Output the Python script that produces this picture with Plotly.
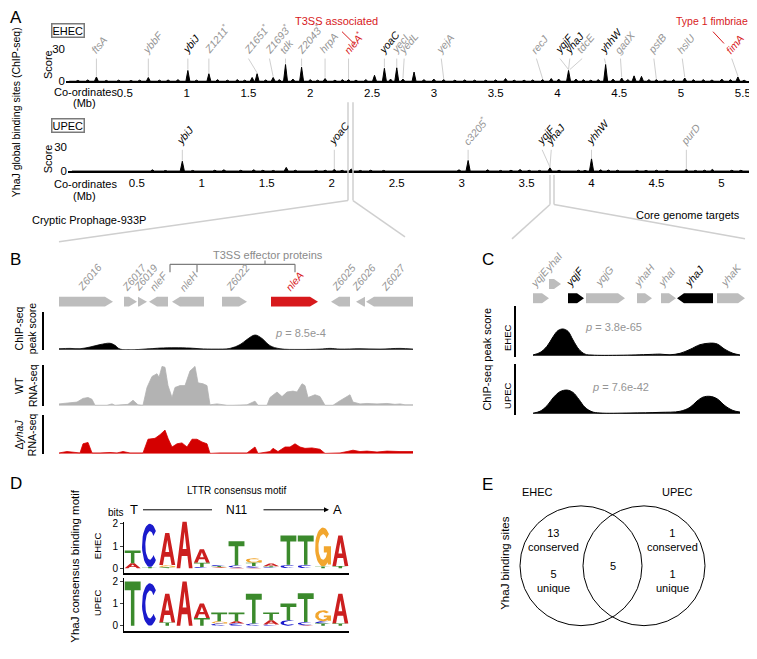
import numpy as np
import plotly.graph_objects as go

W, H = 757, 659
OFF = 8  # the page body margin shifts the figure by 8 px
FONT = "Liberation Sans, Arial, Helvetica, sans-serif"
RED = "#d7191c"
GREY_TXT = "#959595"
GREY_LINE = "#cfcfcf"
GENE_GREY = "#bdbdbd"

# ---------------- Panel A: genome wide ChIP-seq peaks (Mb, score)
ehec_mb = [0.12, 0.2, 0.27, 0.35, 0.45, 0.55, 0.62, 0.69, 0.78, 0.85, 0.93, 1.01, 1.08, 1.18,
           1.25, 1.33, 1.41, 1.47, 1.53, 1.57, 1.64, 1.70, 1.75, 1.80, 1.86, 1.93, 2.0, 2.06,
           2.12, 2.2, 2.26, 2.31, 2.37, 2.45, 2.52, 2.6, 2.65, 2.7, 2.75, 2.84, 2.92, 3.0, 3.08,
           3.17, 3.25, 3.33, 3.42, 3.5, 3.58, 3.65, 3.73, 3.8, 3.88, 3.95, 4.01, 4.09, 4.15,
           4.21, 4.27, 4.33, 4.39, 4.45, 4.52, 4.57, 4.62, 4.68, 4.74, 4.8, 4.87, 4.94, 5.03,
           5.1, 5.18, 5.25, 5.33, 5.4, 5.46, 5.51]
ehec_score = [0.8, 1.2, 4, 0.8, 1, 0.7, 1, 3.5, 1, 1.2, 1.5, 10, 1, 7,
              1.5, 1, 1.5, 1, 3.5, 7, 1.2, 3.5, 1.5, 15.5, 2, 13, 1.5, 1,
              2.5, 1, 1.5, 1.5, 1, 1.5, 5.5, 12, 2, 12.5, 2, 8.5, 1.5, 2, 1.5,
              1, 1.2, 1, 1, 1.2, 2.5, 1, 1, 1.2, 1.5, 2.5, 2, 10, 2,
              1.5, 1, 1.5, 15.5, 2, 3, 1.5, 5, 4.5, 1.5, 1.5, 1.2, 1.5, 3,
              1.5, 1.5, 1.2, 2, 1.5, 4, 1]
upec_mb = [0.05, 0.15, 0.25, 0.35, 0.45, 0.55, 0.62, 0.72, 0.8, 0.85, 0.93, 1.02, 1.1, 1.17,
           1.23, 1.3, 1.4, 1.47, 1.55, 1.65, 1.72, 1.8, 1.88, 1.95, 2.02, 2.08, 2.15, 2.22,
           2.3, 2.4, 2.5, 2.6, 2.7, 2.8, 2.9, 2.98, 3.05, 3.12, 3.2, 3.3, 3.38, 3.45, 3.52,
           3.6, 3.68, 3.75, 3.82, 3.9, 3.95, 4.0, 4.07, 4.13, 4.2, 4.28, 4.35, 4.42, 4.5,
           4.58, 4.65, 4.73, 4.8, 4.87, 4.93, 5.0, 5.08, 5.15]
upec_score = [0.6, 0.8, 0.6, 0.8, 0.7, 0.8, 1.5, 0.7, 0.8, 12, 0.8, 0.7, 1, 1.5,
              0.8, 1, 1.5, 1, 0.8, 4.5, 1, 0.8, 1, 1, 2, 1, 2.5, 0.8,
              1, 0.8, 0.8, 0.7, 0.8, 0.7, 0.8, 1.5, 13, 0.8, 1.5, 0.8, 1, 1.8, 1,
              0.8, 4, 1, 0.8, 1, 0.8, 15, 1.5, 1.2, 1, 0.8, 1, 0.8, 1,
              0.8, 0.8, 2, 0.8, 1, 2, 0.8, 1, 1]
ehec_ticks = [0.5, 1, 1.5, 2, 2.5, 3, 3.5, 4, 4.5, 5, 5.5]
upec_ticks = [0.5, 1, 1.5, 2, 2.5, 3, 3.5, 4, 4.5, 5]

ehec_genes = ["ftsA", "ybbF", "ybiJ", "Z1211*", "Z1651*", "Z1693*", "tdk", "Z2043*", "hrpA",
              "nleA*", "yoaC", "yecI", "yedL", "yejA", "recJ", "yqjF", "yhaJ", "tdcE",
              "yhhW", "gadX", "pstB", "hslU", "fimA"]
ehec_label_mb = [0.27, 0.69, 1.01, 1.18, 1.5, 1.67, 1.8, 1.93, 2.12, 2.31, 2.6, 2.7, 2.76,
                 3.06, 3.83, 4.02, 4.1, 4.2, 4.38, 4.51, 4.78, 5.01, 5.41]
ehec_peak_mb = [0.27, 0.69, 1.01, 1.18, 1.57, 1.70, 1.8, 1.93, 2.12, 2.31, 2.6, 2.7, 2.75,
                3.08, 3.88, 4.09, 4.09, 4.1, 4.39, 4.52, 4.8, 5.03, 5.46]
ehec_gene_kind = ["g", "g", "k", "g", "g", "g", "g", "g", "g", "r", "k", "g", "g", "g", "g",
                  "k", "k", "g", "k", "g", "g", "g", "r"]
upec_genes = ["ybiJ", "yoaC", "c3205*", "yqjF", "yhaJ", "yhhW", "purD"]
upec_label_mb = [0.85, 2.02, 3.05, 3.62, 3.69, 4.0, 4.73]
upec_peak_mb = [0.85, 2.02, 3.05, 3.68, 3.68, 4.0, 4.73]
upec_gene_kind = ["k", "k", "g", "k", "k", "k", "g"]

# ---------------- Panel B: cryptic prophage 933P region (kb)
b_gene = ["Z6016", "Z6017", "Z6019", "nleF", "nleH", "Z6022", "nleA", "Z6025", "Z6026", "Z6027"]
b_start = [0.0, 3.25, 3.95, 4.5, 5.65, 8.15, 10.6, 13.6, 14.85, 15.35]
b_end = [2.7, 3.9, 4.4, 5.45, 7.25, 9.4, 12.95, 14.55, 15.3, 17.7]
b_strand = [1, 1, 1, -1, -1, 1, 1, -1, -1, -1]
b_chip_kb = [0, 0.55, 1.05, 1.55, 2.05, 2.55, 2.8, 3.05, 4.55, 5.05, 5.8, 6.55, 7.05, 7.8,
             8.55, 9.05, 9.4, 9.8, 10.15, 10.55, 11.05, 12.05, 13.05, 13.55, 14.05, 15.05,
             16.05, 17.05, 17.7]
b_chip = [0.3, 0.4, 0.3, 0.8, 1.5, 1.9, 1.3, 0.2, 0.3, 0.5, 0.6, 0.5, 0.3, 0.2,
          0.4, 1.5, 3.0, 4.3, 3.3, 1.2, 0.3, 0.1, 0.2, 0.4, 0.2, 0.3, 0.2, 0.4, 0.2]
b_wt_kb = [0, 0.4, 0.9, 1.2, 1.45, 1.65, 1.8, 2.4, 2.65, 2.8, 3.05, 3.45, 3.7, 3.95, 4.2,
           4.4, 4.65, 4.9, 5.0, 5.15, 5.3, 5.45, 5.65, 5.8, 6.05, 6.3, 6.55, 6.8, 6.95,
           7.2, 7.4, 7.55, 7.9, 8.4, 8.7, 9.4, 9.8, 9.95, 10.4, 10.55, 10.9, 11.15, 11.4,
           11.7, 11.9, 12.15, 12.3, 12.45, 12.8, 13.05, 13.3, 13.7, 14.05, 14.55, 14.7,
           15.05, 15.4, 15.9, 16.4, 16.8, 17.05, 17.3, 17.7]
b_wt = [2, 3, 4, 8, 9, 7, 0.5, 0.5, 2, 0.5, 1, 1.5, 6, 1, 0.5,
        20, 32, 35, 31, 43, 42, 22, 9, 20, 22, 22, 38, 43, 25,
        24, 22, 1, 2, 0.5, 0.5, 1, 5, 0.5, 0.5, 9, 15, 10, 15,
        16, 15, 24, 22, 9, 12, 10, 0.5, 0.5, 5.5, 12, 4,
        2, 2.5, 2, 2.5, 1.5, 2, 1, 1]
b_ko_kb = [0, 0.4, 1.05, 1.2, 1.45, 1.65, 2.05, 2.55, 2.9, 3.2, 3.55, 4.2, 4.45, 4.8, 5.05,
           5.3, 5.45, 5.65, 5.9, 6.15, 6.4, 6.65, 6.9, 7.15, 7.4, 7.55, 8.05, 8.7, 9.4, 9.8,
           9.95, 10.55, 10.7, 10.95, 11.3, 11.55, 11.8, 12.05, 12.3, 12.65, 13.05, 13.3,
           13.7, 14.05, 14.4, 14.7, 15.05, 15.4, 15.9, 16.4, 17.05, 17.7]
b_ko = [1, 2.5, 1, 11, 12.5, 1, 1, 1.5, 1, 2.5, 1, 1, 16, 17, 21,
        26, 17, 7.5, 11, 12, 7.5, 16, 16, 13, 11, 0.5, 1, 1, 1, 7.5,
        0.5, 2.5, 6, 2.5, 7.5, 7.5, 11, 7.5, 6, 6.5, 5, 0.5,
        0.5, 1, 2.5, 4, 2.5, 3, 2, 3, 2.5, 2.5]

# ---------------- Panel C: yqjF - yhaJ region (kb)
c_gene = ["yqjE", "yhaI", "yqjF", "yqjG", "yhaH", "yhaI", "yhaJ", "yhaK"]
c_start = [0.0, 0.8, 1.75, 2.65, 5.2, 6.4, 7.2, 9.2]
c_end = [0.8, 1.4, 2.55, 4.6, 5.95, 7.15, 9.0, 10.6]
c_strand = [1, 1, 1, 1, 1, 1, -1, 1]
c_row = [0, 1, 0, 0, 0, 0, 0, 0]
c_target = [False, False, True, False, False, False, True, False]
c_kb = [0, 0.35, 0.7, 1.0, 1.25, 1.5, 1.75, 2.0, 2.3, 2.6, 2.95, 4.35, 5.85, 6.35, 6.85,
        7.35, 7.85, 8.35, 8.85, 9.2, 9.6, 10.0, 10.35]
c_ehec = [0.5, 2, 6, 12, 16, 17, 15.5, 10, 4, 1, 0.4, 0.3, 0.8, 1, 0.6,
          1.5, 4, 7, 8, 7.5, 4, 1.5, 0.5]
c_upec_kb = [0, 0.35, 0.7, 1.0, 1.35, 1.7, 2.0, 2.3, 2.6, 2.95, 3.35, 4.85, 6.35, 7.35,
             7.85, 8.2, 8.5, 8.85, 9.2, 9.6, 10.0, 10.35]
c_upec = [0.3, 1.5, 5, 10, 14, 15, 13.5, 9, 4, 1.2, 0.4, 0.4, 0.8, 1.5,
          4, 8, 10.5, 11, 9.5, 5, 2, 1]

# ---------------- Panel D: motif logos (bits per position, 13 positions)
ehec_T = [0.58, 0.05, 0.04, 0, 0.2, 0.05, 1.08, 0.15, 0.05, 1.32, 1.32, 0.08, 0.1]
ehec_C = [0, 1.95, 0, 0, 0.05, 0.05, 0.1, 0.08, 0.04, 0.15, 0.15, 0, 0]
ehec_A = [0.22, 0, 1.45, 2.1, 0.6, 0.03, 0.03, 0.02, 0.12, 0, 0, 0, 1.37]
ehec_G = [0, 0, 0.1, 0, 0, 0.02, 0, 0.2, 0, 0, 0, 1.75, 0]
upec_T = [2.0, 0, 0.15, 0, 0.35, 0.4, 0.4, 1.35, 0.35, 0.75, 1.3, 0.1, 0.1]
upec_C = [0, 1.92, 0, 0, 0, 0.1, 0.1, 0.1, 0.05, 0.25, 0.15, 0.1, 0]
upec_A = [0, 0, 1.3, 2.0, 0.65, 0, 0.1, 0, 0.2, 0, 0.02, 0, 1.35]
upec_G = [0, 0, 0, 0, 0, 0.1, 0, 0, 0, 0, 0, 0.5, 0]

# ---------------- Panel E: Venn counts
venn_sets = ["EHEC", "UPEC"]
venn_ehec = ["13<br>conserved", "5<br>unique"]
venn_shared = ["5"]
venn_upec = ["1<br>conserved", "1<br>unique"]


def fx(x):
    return (x - OFF) / W


def fy(y):
    return 1 - (y - OFF) / H


def dom_x(a, b):
    return [fx(a), fx(b)]


def dom_y(top, bottom):
    return [fy(bottom), fy(top)]


KIND_COL = {"k": "black", "g": GREY_TXT, "r": RED}
fig = go.Figure()
ann = []
shapes = []


def text(x, y, s, size=11, color="black", angle=0, xa="center", ya="middle", xref="paper",
         yref="paper", **kw):
    ann.append(dict(x=x, y=y, text=s, showarrow=False, textangle=angle, xanchor=xa, yanchor=ya,
                    xref=xref, yref=yref, font=dict(size=size, color=color), **kw))


def line_px(x0, y0, x1, y1, color=GREY_LINE, width=1.5):
    shapes.append(dict(type="line", xref="paper", yref="paper", x0=fx(x0), y0=fy(y0),
                       x1=fx(x1), y1=fy(y1), line=dict(color=color, width=width)))


def spikes(pos, h, w, start, end):
    xs, ys = [start], [0]
    for i in np.argsort(pos):
        xs += [pos[i] - w, pos[i], pos[i] + w]
        ys += [0, h[i], 0]
    xs.append(end)
    ys.append(0)
    return xs, ys


def gene_label(name):
    if name.endswith("*"):
        return "<i>%s</i><sup>*</sup>" % name[:-1]
    return "<i>%s</i>" % name


# ---------- Panel A traces
for mb, sc, xa, ya, lo, hi in [(ehec_mb, ehec_score, "x", "y", 0.05, 5.53),
                               (upec_mb, upec_score, "x2", "y2", 0.0, 5.22)]:
    xs, ys = spikes(mb, sc, 0.016, lo, hi)
    fig.add_trace(go.Scatter(x=xs, y=ys, mode="lines", fill="tozeroy", fillcolor="black",
                             line=dict(color="black", width=1), xaxis=xa, yaxis=ya,
                             hoverinfo="skip"))

for names, lab, peak, kinds, mb, sc, xr, yr, base in [
        (ehec_genes, ehec_label_mb, ehec_peak_mb, ehec_gene_kind, ehec_mb, ehec_score, "x", "y", 21),
        (upec_genes, upec_label_mb, upec_peak_mb, upec_gene_kind, upec_mb, upec_score, "x2", "y2", 26)]:
    for n, lx, pk, k in zip(names, lab, peak, kinds):
        ph = sc[int(np.argmin(np.abs(np.array(mb) - pk)))]
        shapes.append(dict(type="line", xref=xr, yref=yr, x0=lx, y0=base, x1=pk, y1=ph + 0.8,
                           line=dict(color=GREY_LINE, width=1)))
        text(lx, base, gene_label(n), size=10.5, color=KIND_COL[k], angle=-50, xa="left",
             ya="bottom", xref=xr, yref=yr, xshift=-11)


# ---------- gene arrows
def gene_polys(starts, ends, strands, rows, head):
    out = []
    for s, e, st, r in zip(starts, ends, strands, rows):
        hd = min(head, e - s)
        if st > 0:
            pts = [(s, r - .5), (e - hd, r - .5), (e, r), (e - hd, r + .5), (s, r + .5)]
        else:
            pts = [(e, r - .5), (s + hd, r - .5), (s, r), (s + hd, r + .5), (e, r + .5)]
        out.append(pts)
    return out


def add_polys(polys, color, xa, ya):
    xs, ys = [], []
    for p in polys:
        xs += [q[0] for q in p] + [p[0][0], None]
        ys += [q[1] for q in p] + [p[0][1], None]
    fig.add_trace(go.Scatter(x=xs, y=ys, mode="lines", fill="toself", fillcolor=color,
                             line=dict(width=0, color=color), xaxis=xa, yaxis=ya,
                             hoverinfo="skip"))


# ---------- Panel B
b_polys = gene_polys(b_start, b_end, b_strand, [0] * len(b_gene), 0.4)
add_polys([p for p, n in zip(b_polys, b_gene) if n != "nleA"], GENE_GREY, "x3", "y3")
add_polys([p for p, n in zip(b_polys, b_gene) if n == "nleA"], RED, "x3", "y3")
for n, s, e in zip(b_gene, b_start, b_end):
    text((s + e) / 2, fy(295), "<i>%s</i>" % n, size=10.5, color=RED if n == "nleA" else GREY_TXT,
         angle=-50, xa="left", ya="bottom", xref="x3", xshift=-14)

fig.add_trace(go.Scatter(x=b_chip_kb, y=b_chip, mode="lines", line_shape="spline", fill="tozeroy",
                         fillcolor="black", line=dict(color="black", width=0.8), xaxis="x3",
                         yaxis="y4", hoverinfo="skip"))
fig.add_trace(go.Scatter(x=b_wt_kb, y=b_wt, mode="lines", fill="tozeroy", fillcolor="#b3b3b3",
                         line=dict(color="#b3b3b3", width=0.8), xaxis="x3", yaxis="y5",
                         hoverinfo="skip"))
fig.add_trace(go.Scatter(x=b_ko_kb, y=b_ko, mode="lines", fill="tozeroy", fillcolor="#d40000",
                         line=dict(color="#d40000", width=0.8), xaxis="x3", yaxis="y6",
                         hoverinfo="skip"))

# ---------- Panel C
c_polys = gene_polys(c_start, c_end, c_strand, [1.45 * r for r in c_row], 0.35)
add_polys([p for p, t in zip(c_polys, c_target) if not t], GENE_GREY, "x4", "y7")
add_polys([p for p, t in zip(c_polys, c_target) if t], "black", "x4", "y7")
for n, s, e, r, t in zip(c_gene, c_start, c_end, c_row, c_target):
    text((s + e) / 2, fy(291 - 15 * r), "<i>%s</i>" % n, size=10.5,
         color="black" if t else GREY_TXT, angle=-50, xa="left", ya="bottom", xref="x4",
         xshift=-16)
for kb, v, ya in [(c_kb, c_ehec, "y8"), (c_upec_kb, c_upec, "y9")]:
    fig.add_trace(go.Scatter(x=kb, y=v, mode="lines", line_shape="spline", fill="tozeroy",
                             fillcolor="black", line=dict(color="black", width=1), xaxis="x4",
                             yaxis=ya, hoverinfo="skip"))

# ---------- Panel D: sequence logos drawn as filled glyphs
LOGO_COL = {"A": "#cc1f1f", "C": "#1b1bcc", "G": "#f2a62e", "T": "#3b8a2c"}
th_c = np.radians(np.linspace(42, 318, 30))
th_g = np.radians(np.linspace(42, 350, 32))


def ring(th):
    outer = [(0.5 + 0.5 * np.cos(t), 0.5 + 0.5 * np.sin(t)) for t in th]
    inner = [(0.5 + 0.29 * np.cos(t), 0.5 + 0.33 * np.sin(t)) for t in th[::-1]]
    return outer + inner


GLYPHS = {
    "T": ([[(0, 1), (1, 1), (1, 0.8), (0.61, 0.8), (0.61, 0), (0.39, 0), (0.39, 0.8), (0, 0.8)]], []),
    "A": ([[(0, 0), (0.37, 1), (0.63, 1), (1, 0), (0.77, 0), (0.68, 0.26), (0.32, 0.26), (0.23, 0)]],
          [[(0.38, 0.41), (0.5, 0.78), (0.62, 0.41)]]),
    "C": ([ring(th_c)], []),
    "G": ([ring(th_g), [(0.55, 0.36), (1, 0.36), (1, 0.52), (0.55, 0.52)],
           [(0.8, 0.05), (1, 0.05), (1, 0.52), (0.8, 0.52)]], []),
}


def add_logo(cols, xa, ya):
    polys = {k: [] for k in LOGO_COL}
    holes = []
    for i in range(len(cols["T"])):
        base = 0.0
        for ch in sorted(cols, key=lambda c: cols[c][i]):
            hgt = cols[ch][i]
            if hgt <= 0:
                continue
            outer, hole = GLYPHS[ch]
            tf = lambda pts: [(i + 1 - 0.46 + 0.92 * a, base + hgt * b) for a, b in pts]
            polys[ch] += [tf(p) for p in outer]
            holes += [tf(p) for p in hole]
            base += hgt
    for ch, col in LOGO_COL.items():
        add_polys(polys[ch], col, xa, ya)
    add_polys(holes, "white", xa, ya)


add_logo({"T": ehec_T, "C": ehec_C, "A": ehec_A, "G": ehec_G}, "x5", "y10")
add_logo({"T": upec_T, "C": upec_C, "A": upec_A, "G": upec_G}, "x6", "y11")

# ---------- Panel E: Venn
for cx in (581, 644):
    shapes.append(dict(type="circle", xref="paper", yref="paper", x0=fx(cx - 61), x1=fx(cx + 61),
                       y0=fy(631), y1=fy(509), line=dict(color="black", width=1)))
text(fx(537), fy(495), venn_sets[0], size=11)
text(fx(677), fy(495), venn_sets[1], size=11)
text(fx(553), fy(544), venn_ehec[0], size=11)
text(fx(553), fy(586), venn_ehec[1], size=11)
text(fx(613), fy(570), venn_shared[0], size=11)
text(fx(672), fy(544), venn_upec[0], size=11)
text(fx(672), fy(586), venn_upec[1], size=11)
text(fx(505), fy(567), "YhaJ binding sites", size=11.5, angle=-90)

# ---------- decorations / titles
text(fx(8), fy(12), "A", size=17, xa="left")
text(fx(8), fy(258), "B", size=17, xa="left")
text(fx(488), fy(258), "C", size=17)
text(fx(8), fy(486), "D", size=17, xa="left")
text(fx(487), fy(487), "E", size=17)

text(fx(16), fy(108), "YhaJ global binding sites (ChIP-seq)", size=10.5, angle=-90)
for top, lab in [(25, "EHEC"), (122, "UPEC")]:
    ann.append(dict(x=fx(68), y=fy(top), text=lab, showarrow=False, xref="paper", yref="paper",
                    xanchor="center", yanchor="middle", font=dict(size=11),
                    bordercolor="#7a7a7a", borderwidth=1.5, borderpad=0))
text(fx(48), fy(60), "Score", size=11, angle=-90)
text(fx(48), fy(156), "Score", size=11, angle=-90)
text(fx(52), fy(87), "Co-ordinates", size=11, xa="left")
text(fx(84), fy(99), "(Mb)", size=11)
text(fx(52), fy(181), "Co-ordinates", size=11, xa="left")
text(fx(84), fy(193), "(Mb)", size=11)
text(fx(336), fy(15), "T3SS associated", size=11, color=RED)
text(fx(750), fy(15), "Type 1 fimbriae", size=10.5, color=RED, xa="right")
line_px(342, 26, 355, 39, RED, 1)
line_px(713, 26, 724, 38, RED, 1)

# zoom connectors
line_px(348, 98, 348, 198)
line_px(353, 98, 353, 198)
line_px(348, 198, 59, 240)
line_px(353, 198, 405, 235)
line_px(550, 172, 550, 202)
line_px(554, 172, 554, 202)
line_px(550, 202, 512, 237)
line_px(554, 202, 745, 237)
text(fx(30), fy(218), "Cryptic Prophage-933P", size=11, xa="left")
text(fx(742), fy(213), "Core genome targets", size=11, xa="right")

# T3SS effector bracket
for x0, y0, x1, y1 in [(170, 263, 295, 263), (170, 263, 170, 271), (197, 263, 197, 271),
                       (295, 263, 295, 271), (265, 263, 265, 259)]:
    line_px(x0, y0, x1, y1, "#7d7d7d", 1.2)
text(fx(268), fy(253), "T3SS effector proteins", size=11, color="#8a8a8a")

text(fx(26), fy(328), "ChIP-seq<br>peak score", size=10.5, angle=-90)
text(fx(26), fy(387), "WT<br>RNA-seq", size=10.5, angle=-90)
text(fx(26), fy(437), "Δ<i>yhaJ</i><br>RNA-seq", size=10.5, angle=-90)
text(fx(300), fy(333), "<i>p</i> = 8.5e-4", size=11, color=GREY_TXT)

text(fx(487), fy(360), "ChIP-seq peak score", size=11, angle=-90)
text(fx(508), fy(338), "EHEC", size=9.5, angle=-90)
text(fx(508), fy(397), "UPEC", size=9.5, angle=-90)
text(fx(613), fy(327), "<i>p</i> = 3.8e-65", size=11, color=GREY_TXT)
text(fx(620), fy(388), "<i>p</i> = 7.6e-42", size=11, color=GREY_TXT)

text(fx(75), fy(570), "YhaJ consensus binding motif", size=11.5, angle=-90)
text(fx(237), fy(493), "LTTR consensus motif", size=10)
text(fx(134), fy(513), "T", size=13)
text(fx(237), fy(513), "N11", size=12)
text(fx(337), fy(513), "A", size=13)
text(fx(116), fy(516), "bits", size=10)
text(fx(97), fy(550), "EHEC", size=9.5, angle=-90)
text(fx(97), fy(608), "UPEC", size=9.5, angle=-90)
line_px(143, 513, 212, 513, "black", 1)
ann.append(dict(x=fx(329), y=fy(513), ax=-67, ay=0, xref="paper", yref="paper", text="",
                showarrow=True, arrowhead=2, arrowsize=1, arrowwidth=1, arrowcolor="black"))

# ---------- axes
hidden = dict(visible=False)
ax_a = dict(showline=True, linecolor="black", linewidth=2, ticks="", showgrid=False,
            zeroline=False, tickfont=dict(size=11.5))
ya_a = dict(tickvals=[0, 30], ticks="", showgrid=False, zeroline=False, tickfont=dict(size=11.5),
            range=[0, 30])
track_y = dict(anchor="free", showline=True, linecolor="black", linewidth=1.5, ticks="",
               ticklabelposition="inside", showgrid=False, zeroline=False,
               tickfont=dict(size=11))
logo_x = dict(range=[0.5, 13.5], showline=True, linecolor="black", linewidth=1.5,
              showticklabels=False, ticks="", showgrid=False, zeroline=False)
logo_y = dict(showline=True, linecolor="black", linewidth=1, ticks="outside", ticklen=3,
              tickvals=[0, 1, 2], showgrid=False, zeroline=False, tickfont=dict(size=10))

fig.update_layout(
    width=W, height=H, margin=dict(l=0, r=0, t=0, b=0), showlegend=False,
    paper_bgcolor="white", plot_bgcolor="rgba(0,0,0,0)",
    font=dict(family=FONT, color="black"),
    xaxis=dict(ax_a, domain=dom_x(66, 751), range=[0.024, 5.566], anchor="y",
               tickvals=ehec_ticks, ticktext=[("%g" % t) for t in ehec_ticks]),
    yaxis=dict(ya_a, domain=dom_y(43.5, 76.5), anchor="x"),
    xaxis2=dict(ax_a, domain=dom_x(68, 750), range=[-0.03, 5.22], anchor="y2",
                tickvals=upec_ticks, ticktext=[("%g" % t) for t in upec_ticks]),
    yaxis2=dict(ya_a, domain=dom_y(143, 168), anchor="x2"),
    xaxis3=dict(hidden, domain=dom_x(59, 413), range=[0, 17.7], anchor="y3"),
    yaxis3=dict(hidden, domain=dom_y(291, 311), range=[-1, 1], anchor="x3"),
    yaxis4=dict(track_y, domain=dom_y(312, 350), range=[0, 10.86], position=fx(43),
                tickvals=[0, 10], zeroline=True, zerolinecolor="#bbbbbb", zerolinewidth=1),
    yaxis5=dict(track_y, domain=dom_y(366, 407), range=[0, 44], position=fx(43), tickvals=[0, 40]),
    yaxis6=dict(track_y, domain=dom_y(416, 456), range=[0, 43], position=fx(43), tickvals=[0, 40]),
    xaxis4=dict(hidden, domain=dom_x(533, 745), range=[0, 10.6], anchor="y7"),
    yaxis7=dict(hidden, domain=dom_y(277, 303), range=[-0.55, 2.05], anchor="x4"),
    yaxis8=dict(track_y, domain=dom_y(305, 357), range=[-0.6, 31.9], position=fx(515),
                tickvals=[0, 30]),
    yaxis9=dict(track_y, domain=dom_y(365, 416), range=[-0.6, 31.3], position=fx(515),
                tickvals=[0, 30]),
    xaxis5=dict(logo_x, domain=dom_x(124, 349), anchor="y10"),
    yaxis10=dict(logo_y, domain=dom_y(525, 577), range=[-0.2, 2.1], anchor="x5"),
    xaxis6=dict(logo_x, domain=dom_x(124, 349), anchor="y11"),
    yaxis11=dict(logo_y, domain=dom_y(582, 636), range=[-0.22, 2.18], anchor="x6"),
    annotations=ann, shapes=shapes,
)

fig.write_html("out.html")
